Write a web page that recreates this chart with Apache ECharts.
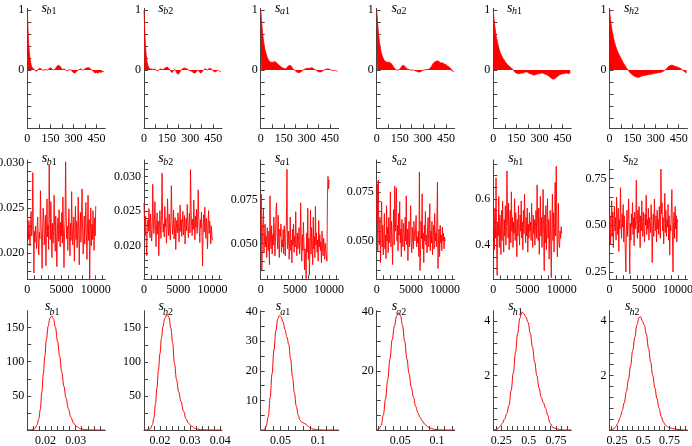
<!DOCTYPE html>
<html><head><meta charset="utf-8">
<script src="https://cdn.jsdelivr.net/npm/echarts@6/dist/echarts.min.js"></script>
<style>html,body{margin:0;padding:0;background:#fff}#c{width:692px;height:446px}</style>
</head><body><div id="c"></div>
<script>
// ---------------- data ----------------
const panelNames = [['b','1'],['b','2'],['a','1'],['a','2'],['h','1'],['h','2']];

// Row 1: autocorrelation
const acfLags = [0,3,6,9,12,15,20,25,30,
  40,50,60,70,80,90,100,110,120,130,
  140,150,160,170,180,190,200,210,220,230,
  240,250,260,270,280,290,300,310,320,330,
  340,350,360,370,380,390,400,410,420,430,
  440,450,460,470,480,490,500];
const acfB1 = [1,0.8,0.6,0.45,0.34,0.26,0.16,0.09,0.05,
  0.02,0.0,-0.02,0.01,0.03,0.02,0.0,0.0,0.01,0.0,
  0.02,0.04,0.02,0.0,0.02,0.05,0.08,0.07,0.04,0.01,
  0.02,0.0,-0.01,0.0,0.01,-0.02,-0.04,-0.05,-0.02,0.0,
  0.01,0.02,0.0,0.01,0.03,0.04,0.04,0.02,0.0,-0.02,
  -0.05,-0.04,-0.05,-0.03,-0.04,-0.02,-0.03];
const acfB2 = [1,0.8,0.6,0.45,0.33,0.24,0.14,0.08,0.05,
  0.02,0.02,0.01,0.02,0.0,-0.01,0.01,0.02,0.01,0.02,
  0.04,0.05,0.03,0.0,-0.04,-0.02,0.01,-0.03,-0.07,-0.05,
  0.0,0.02,0.03,0.03,0.02,0.0,-0.01,-0.02,-0.04,-0.05,
  -0.03,0.0,-0.03,-0.05,-0.02,0.01,0.02,0.0,0.02,0.03,
  0.01,-0.01,-0.03,-0.02,0.0,-0.02,-0.03];
const acfA1 = [1,0.92,0.82,0.72,0.63,0.56,0.46,0.38,0.32,
  0.23,0.17,0.14,0.13,0.13,0.14,0.13,0.1,0.08,0.06,
  0.04,0.03,0.02,0.04,0.07,0.08,0.06,0.02,0.0,-0.02,
  -0.04,-0.04,-0.03,-0.01,0.01,0.02,0.03,0.03,0.03,0.04,
  0.03,0.01,0.0,-0.02,-0.03,-0.03,-0.02,0.0,0.01,0.02,
  0.02,0.01,0.0,-0.01,0.0,-0.01,-0.02];
const acfA2 = [1,0.9,0.8,0.7,0.61,0.53,0.43,0.35,0.29,
  0.21,0.16,0.14,0.13,0.13,0.12,0.09,0.05,0.02,0.0,
  0.0,0.02,0.05,0.08,0.07,0.04,0.02,0.01,0.0,0.0,
  0.0,-0.01,-0.02,-0.03,-0.03,-0.02,0.0,0.0,0.01,0.01,
  0.02,0.04,0.08,0.12,0.14,0.15,0.15,0.13,0.12,0.12,
  0.1,0.09,0.07,0.05,0.03,0.0,-0.03];
const acfH1 = [1,0.9,0.82,0.75,0.69,0.63,0.55,0.49,0.43,
  0.33,0.26,0.21,0.17,0.13,0.1,0.07,0.05,0.03,0.0,
  -0.03,-0.05,-0.06,-0.06,-0.05,-0.05,-0.04,-0.03,-0.03,-0.05,
  -0.06,-0.07,-0.08,-0.08,-0.07,-0.06,-0.06,-0.05,-0.05,-0.06,
  -0.07,-0.08,-0.1,-0.12,-0.14,-0.15,-0.14,-0.12,-0.1,-0.08,
  -0.07,-0.06,-0.06,-0.05,-0.05,-0.06,-0.05];
const acfH2 = [1,0.93,0.86,0.8,0.74,0.69,0.61,0.55,0.49,
  0.4,0.33,0.27,0.22,0.17,0.12,0.08,0.04,0.0,-0.03,
  -0.06,-0.08,-0.1,-0.11,-0.12,-0.12,-0.11,-0.1,-0.09,-0.09,
  -0.08,-0.08,-0.07,-0.07,-0.06,-0.06,-0.05,-0.05,-0.04,-0.04,
  -0.03,-0.02,0.0,0.02,0.05,0.07,0.08,0.08,0.07,0.06,
  0.05,0.04,0.03,0.01,-0.01,-0.03,-0.05];

// Row 2: traces (one value every traceStep iterations)
const traceStep = 80;
const traceB1 = [0.0243,0.0228,0.0215,0.0236,0.0221,0.0208,0.0232,0.0246,0.0219,0.0226,
  0.0289,0.0231,0.0178,0.0224,0.0212,0.0230,0.0219,0.0205,0.0227,0.0240,
  0.0211,0.0198,0.0223,0.0216,0.0269,0.0233,0.0214,0.0183,0.0228,0.0250,
  0.0237,0.0209,0.0221,0.0242,0.0186,0.0225,0.0260,0.0218,0.0231,0.0204,
  0.0298,0.0238,0.0215,0.0257,0.0226,0.0195,0.0233,0.0211,0.0224,0.0264,
  0.0229,0.0202,0.0241,0.0217,0.0185,0.0226,0.0239,0.0213,0.0248,0.0222,
  0.0207,0.0234,0.0219,0.0245,0.0211,0.0262,0.0227,0.0184,0.0220,0.0236,
  0.0301,0.0244,0.0216,0.0230,0.0203,0.0225,0.0249,0.0218,0.0197,0.0233,
  0.0214,0.0268,0.0231,0.0209,0.0222,0.0240,0.0191,0.0227,0.0252,0.0215,
  0.0235,0.0206,0.0224,0.0262,0.0219,0.0187,0.0230,0.0245,0.0212,0.0238,
  0.0271,0.0226,0.0199,0.0217,0.0241,0.0210,0.0233,0.0256,0.0221,0.0193,
  0.0229,0.0264,0.0214,0.0237,0.0172,0.0220,0.0250,0.0208,0.0232,0.0215,
  0.0247,0.0225,0.0203,0.0239,0.0219,0.0252];
const traceB2 = [0.0262,0.0231,0.0215,0.0243,0.0209,0.0186,0.0227,0.0238,0.0221,0.0254,
  0.0233,0.0212,0.0246,0.0228,0.0207,0.0224,0.0289,0.0240,0.0218,0.0235,
  0.0264,0.0226,0.0199,0.0230,0.0248,0.0217,0.0236,0.0186,0.0222,0.0251,
  0.0229,0.0211,0.0244,0.0305,0.0237,0.0220,0.0232,0.0213,0.0257,0.0228,
  0.0240,0.0204,0.0223,0.0268,0.0231,0.0215,0.0246,0.0222,0.0209,0.0236,
  0.0287,0.0243,0.0217,0.0229,0.0252,0.0210,0.0226,0.0241,0.0195,0.0224,
  0.0237,0.0219,0.0248,0.0232,0.0206,0.0227,0.0259,0.0221,0.0238,0.0214,
  0.0233,0.0250,0.0216,0.0229,0.0244,0.0203,0.0225,0.0240,0.0222,0.0260,
  0.0235,0.0212,0.0230,0.0247,0.0219,0.0310,0.0255,0.0228,0.0215,0.0239,
  0.0224,0.0266,0.0236,0.0209,0.0243,0.0227,0.0253,0.0218,0.0234,0.0281,
  0.0242,0.0223,0.0205,0.0238,0.0226,0.0249,0.0214,0.0171,0.0229,0.0245,
  0.0220,0.0256,0.0233,0.0211,0.0240,0.0227,0.0196,0.0232,0.0251,0.0218,
  0.0236,0.0224,0.0203,0.0229,0.0215,0.0208];
const traceA1 = [0.0560,0.0780,0.0350,0.0490,0.0620,0.0700,0.0450,0.0530,0.0610,0.0480,
  0.0540,0.0420,0.0590,0.0500,0.0460,0.0570,0.0380,0.0770,0.0520,0.0470,
  0.0600,0.0440,0.0550,0.0490,0.0650,0.0580,0.0430,0.0510,0.0690,0.0730,
  0.0560,0.0470,0.0660,0.0500,0.0420,0.0580,0.0540,0.0610,0.0450,0.0520,
  0.0480,0.0580,0.0440,0.0600,0.0510,0.0430,0.0550,0.0620,0.0920,0.0470,
  0.0500,0.0570,0.0410,0.0530,0.0650,0.0460,0.0520,0.0390,0.0580,0.0490,
  0.0610,0.0450,0.0540,0.0480,0.0680,0.0500,0.0430,0.0560,0.0470,0.0520,
  0.0590,0.0440,0.0510,0.0730,0.0480,0.0400,0.0550,0.0460,0.0620,0.0500,
  0.0350,0.0470,0.0420,0.0300,0.0560,0.0450,0.0700,0.0410,0.0530,0.0320,
  0.0480,0.0690,0.0440,0.0590,0.0500,0.0380,0.0650,0.0470,0.0540,0.0420,
  0.0710,0.0490,0.0560,0.0450,0.0520,0.0400,0.0630,0.0480,0.0550,0.0460,
  0.0510,0.0390,0.0570,0.0470,0.0430,0.0530,0.0490,0.0410,0.0500,0.0460,
  0.0450,0.0400,0.0780,0.0880,0.0810,0.0860];
const traceA2 = [0.0600,0.0790,0.0450,0.0810,0.0520,0.0480,0.0620,0.0390,0.0550,0.0700,
  0.0470,0.0580,0.0430,0.0510,0.0640,0.0460,0.0530,0.0410,0.0680,0.0500,
  0.0570,0.0440,0.0620,0.0490,0.0540,0.0750,0.0470,0.0600,0.0520,0.0380,
  0.0560,0.0660,0.0480,0.0780,0.0550,0.0620,0.0770,0.0500,0.0580,0.0450,
  0.0640,0.0530,0.0700,0.0490,0.0560,0.0420,0.0610,0.0510,0.0470,0.0590,
  0.0540,0.0450,0.0620,0.0500,0.0730,0.0480,0.0560,0.0400,0.0520,0.0600,
  0.0470,0.0550,0.0680,0.0490,0.0440,0.0570,0.0510,0.0460,0.0600,0.0530,
  0.0500,0.0560,0.0630,0.0470,0.0520,0.0490,0.0550,0.0420,0.0850,0.0350,
  0.0420,0.0600,0.0510,0.0740,0.0460,0.0540,0.0390,0.0580,0.0500,0.0650,
  0.0480,0.0530,0.0440,0.0570,0.0620,0.0470,0.0510,0.0690,0.0450,0.0550,
  0.0490,0.0600,0.0430,0.0520,0.0580,0.0460,0.0640,0.0500,0.0540,0.0470,
  0.0610,0.0800,0.0360,0.0510,0.0560,0.0420,0.0580,0.0490,0.0530,0.0450,
  0.0570,0.0500,0.0540,0.0460,0.0520,0.0500];
const traceH1 = [0.4500,0.5200,0.3800,0.5600,0.4300,0.6900,0.4100,0.2700,0.5000,0.4400,
  0.6100,0.3900,0.5300,0.4700,0.3600,0.5500,0.4200,0.5900,0.4600,0.3700,
  0.5100,0.4400,0.5700,0.4000,0.4800,0.7200,0.5300,0.4300,0.5800,0.3800,
  0.4900,0.5500,0.4100,0.6300,0.4600,0.5200,0.3900,0.5000,0.4500,0.6000,
  0.4200,0.5400,0.4800,0.3500,0.5100,0.4400,0.5700,0.4700,0.4000,0.5300,
  0.4600,0.5900,0.4300,0.5000,0.3800,0.5500,0.4500,0.6200,0.4800,0.4100,
  0.5200,0.4400,0.5600,0.3700,0.4900,0.4300,0.5400,0.4600,0.5000,0.4200,
  0.5800,0.4700,0.3900,0.5300,0.4500,0.5100,0.4000,0.4800,0.5500,0.4300,
  0.6600,0.5000,0.4200,0.5600,0.3600,0.4700,0.6100,0.4400,0.5200,0.3900,
  0.4900,0.6400,0.4500,0.2900,0.5300,0.4100,0.5700,0.3800,0.4800,0.6000,
  0.4300,0.5100,0.3400,0.4600,0.5500,0.4000,0.2600,0.4900,0.6200,0.4200,
  0.5400,0.3700,0.4700,0.6700,0.4400,0.7400,0.5000,0.3500,0.4500,0.5800,
  0.4100,0.3900,0.4600,0.4300,0.4800,0.4500];
const traceH2 = [0.4600,0.5500,0.4000,0.5200,0.6300,0.4400,0.5700,0.3800,0.5000,0.6000,
  0.4700,0.5400,0.4200,0.6500,0.5100,0.4500,0.5900,0.3600,0.5300,0.4800,
  0.7000,0.5200,0.4300,0.5600,0.4900,0.6100,0.4100,0.5500,0.4600,0.3500,
  0.2500,0.5000,0.5800,0.4400,0.5300,0.6400,0.4700,0.2400,0.5100,0.4200,
  0.5600,0.4900,0.6200,0.4500,0.5400,0.3900,0.5700,0.4800,0.5200,0.7400,
  0.5000,0.4300,0.5800,0.4600,0.6000,0.5100,0.3800,0.5500,0.4700,0.6300,
  0.5200,0.4400,0.5700,0.4900,0.4100,0.5600,0.5000,0.6600,0.4500,0.5300,
  0.4800,0.5900,0.4200,0.5400,0.5000,0.4600,0.6100,0.5200,0.3000,0.4900,
  0.5600,0.4400,0.6400,0.5100,0.4700,0.5500,0.4100,0.5800,0.4800,0.5300,
  0.4500,0.6000,0.5000,0.4300,0.8000,0.5600,0.6200,0.4700,0.5400,0.4000,
  0.5100,0.6700,0.4600,0.5800,0.4400,0.5300,0.4900,0.6100,0.4200,0.5500,
  0.3400,0.5000,0.4700,0.5900,0.6900,0.4400,0.2500,0.5200,0.5700,0.4300,
  0.6000,0.4800,0.5500,0.4100,0.5300,0.5200];

// Row 3: posterior densities
const densB1X = [0.014,0.0155,0.0165,0.0172,0.0178,0.0183,0.0188,0.0193,0.0198,0.0203,0.0209,0.0215,0.0221,0.0227,0.0233,0.0240,0.0247,0.0254,0.0261,0.0268,0.0276,0.0284,0.0293,0.0303,0.0315,0.033,0.035,0.037,0.0398];
const densB1Y = [0,0.3,2,7,16,30,55,82,108,132,152,164,167,162,150,130,108,85,64,47,31,19,10,5,2,0.6,0.1,0,0];
const densB2X = [0.0147,0.016,0.0168,0.0175,0.018,0.0185,0.019,0.0195,0.02,0.0205,0.021,0.0216,0.0224,0.023,0.0236,0.0242,0.0248,0.0255,0.0262,0.027,0.0278,0.0286,0.0295,0.0305,0.0318,0.0335,0.036,0.038,0.0406];
const densB2Y = [0,0.3,2,8,18,38,62,88,112,135,152,164,170,165,150,128,98,74,56,42,28,17,10,5.5,2,0.5,0.1,0,0];
const densA1X = [0.024,0.028,0.031,0.034,0.0365,0.039,0.0415,0.044,0.0465,0.049,0.051,0.0535,0.056,0.0585,0.061,0.0635,0.066,0.0685,0.071,0.0735,0.076,0.0785,0.081,0.0835,0.086,0.089,0.093,0.098,0.105,0.115,0.127];
const densA1Y = [0,0,1,4.5,11,19,27,33.5,37.5,38.7,38.2,36.5,34,31.5,29,24,18,12.5,8,5,3.3,2.6,2.3,2,1.4,0.8,0.3,0.1,0,0,0];
const densA2X = [0.018,0.021,0.024,0.027,0.03,0.033,0.036,0.039,0.042,0.045,0.0477,0.0505,0.053,0.056,0.059,0.062,0.065,0.068,0.071,0.074,0.077,0.08,0.084,0.088,0.092,0.097,0.103,0.11,0.117,0.124];
const densA2Y = [0,0.3,1.5,5,10.5,17,24,30.5,35,38.5,39.5,38.5,35.5,30,24,19,14.5,11,8,5.8,4.2,3,1.8,1,0.5,0.2,0.05,0,0,0];
const densH1X = [0.177,0.2,0.22,0.24,0.26,0.28,0.3,0.32,0.34,0.36,0.38,0.4,0.42,0.436,0.455,0.475,0.495,0.515,0.535,0.555,0.575,0.595,0.615,0.635,0.655,0.675,0.695,0.72,0.75,0.78,0.82,0.86,0.89];
const densH1Y = [0,0.02,0.06,0.14,0.25,0.4,0.6,0.9,1.45,2.1,2.85,3.55,4.1,4.33,4.28,4.15,3.95,3.55,3.05,2.5,2.0,1.55,1.2,1.0,0.8,0.55,0.25,0.1,0.05,0.02,0,0,0];
const densH2X = [0.18,0.2,0.22,0.24,0.26,0.28,0.3,0.32,0.34,0.36,0.38,0.4,0.42,0.44,0.46,0.475,0.49,0.51,0.53,0.55,0.57,0.59,0.61,0.63,0.65,0.67,0.69,0.71,0.74,0.78,0.83,0.88,0.92];
const densH2Y = [0,0.01,0.04,0.12,0.25,0.45,0.7,1.0,1.4,1.85,2.35,2.9,3.4,3.85,4.12,4.15,4.0,3.85,3.5,3.0,2.5,2.0,1.55,1.15,0.8,0.5,0.3,0.18,0.1,0.05,0.02,0,0];

// tick labels
const acfXLabels = [0,150,300,450];
const acfYLabels = [0,1];
const traceXLabels = [0,5000,10000];
const traceYLabels = [[0.020,0.025,0.030],[0.020,0.025,0.030],[0.050,0.075],[0.050,0.075],[0.4,0.6],[0.25,0.50,0.75]];
const traceYDecimals = [3,3,3,3,1,2];
const densXLabels = [[0.02,0.03],[0.02,0.03,0.04],[0.05,0.1],[0.05,0.1],[0.25,0.5,0.75],[0.25,0.5,0.75]];
const densYLabels = [[50,100,150],[50,100,150],[10,20,30,40],[20,40],[2,4],[2,4]];

// ---------------- layout / axes ----------------
const colLeft = [27.3,144,260.7,376.7,493.3,609.5];
const gridW = 78;
const rowTop = [8.3,160,310.7];
const rowH = [120,119.3,119.3];

const acfXRange = [0,507];
const acfYRange = [-0.97,1.03];
const traceXRange = [0,11400];
const traceYRanges = [[0.0171,0.0303],[0.0152,0.0324],[0.0297,0.0973],[0.0305,0.0912],[0.253,0.767],[0.211,0.848]];
const densXRanges = [[0.014,0.0398],[0.0147,0.0406],[0.024,0.127],[0.018,0.124],[0.177,0.89],[0.18,0.92]];
const densYMax = [174.6,175,40.3,40.3,4.38,4.37];

function rng(a,b,s){const o=[];for(let k=0;a+k*s<=b+1e-9;k++)o.push(+(a+k*s).toFixed(6));return o;}
const acfXTicks = rng(0,450,75);
const acfYTicks = rng(-0.8,1,0.2);
const traceXTicks = rng(0,11000,1000);
const traceYTickSpec = [[0.018,0.030,0.001],[0.016,0.032,0.001],[0.030,0.095,0.005],[0.035,0.090,0.005],[0.30,0.75,0.05],[0.25,0.80,0.05]];
const densXTickSpec = [[0.016,0.038,0.002],[0.016,0.040,0.002],[0.03,0.12,0.01],[0.02,0.12,0.01],[0.2,0.85,0.05],[0.2,0.9,0.05]];
const densYTickSpec = [[25,150,25],[25,150,25],[5,40,5],[5,40,5],[0.4,4,0.4],[0.4,4,0.4]];

const FONT = 'Liberation Serif';
const AX = '#444';
const RED = '#ff0000';

const acfData = [acfB1,acfB2,acfA1,acfA2,acfH1,acfH2];
const traceData = [traceB1,traceB2,traceA1,traceA2,traceH1,traceH2];
const densX = [densB1X,densB2X,densA1X,densA2X,densH1X,densH2X];
const densY = [densB1Y,densB2Y,densA1Y,densA2Y,densH1Y,densH2Y];

const grids=[],xAxes=[],yAxes=[],series=[],graphics=[];

function axis(idx, range, ticks, labels, fmt, isX){
  return {
    gridIndex: idx, type:'value', min: range[0], max: range[1],
    axisLine:{show:true, onZero:false, lineStyle:{color:AX, width:1}},
    axisTick:{show:true, inside:true, length:4, customValues: ticks, lineStyle:{color:AX, width:1}},
    axisLabel:{show:true, customValues: labels, formatter: fmt, margin: isX?5:3,
      fontFamily: FONT, fontSize: 12, color:'#000'},
    splitLine:{show:false}
  };
}

function addPanel(row, col, xr, xt, xl, xf, yr, yt, yl, yf, s){
  const idx = grids.length;
  grids.push({left: colLeft[col], top: rowTop[row], width: gridW, height: rowH[row], containLabel:false, outerBoundsMode:'none'});
  xAxes.push(axis(idx, xr, xt, xl, xf, true));
  yAxes.push(axis(idx, yr, yt, yl, yf, false));
  s.xAxisIndex = idx; s.yAxisIndex = idx;
  series.push(s);
}

const plain = v => String(v);

for (let i=0;i<6;i++){
  // Row 1: ACF
  addPanel(0, i, acfXRange, acfXTicks, acfXLabels, plain, acfYRange, acfYTicks, acfYLabels, plain, {
    type:'line', data: acfLags.map((l,k)=>[l, acfData[i][k]]), showSymbol:false, smooth:0.3,
    lineStyle:{color:RED, width:0.8}, areaStyle:{color:RED, opacity:1, origin:0}, clip:true
  });
  // Row 2: trace
  const d = traceYDecimals[i];
  addPanel(1, i, traceXRange, traceXTicks, traceXLabels, plain,
    traceYRanges[i], rng(...traceYTickSpec[i]), traceYLabels[i], v => Number(v).toFixed(d), {
    type:'line', data: traceData[i].map((v,k)=>[k*traceStep, v]), showSymbol:false,
    lineStyle:{color:RED, width:0.9}, clip:true
  });
  // Row 3: density
  addPanel(2, i, densXRanges[i], rng(...densXTickSpec[i]), densXLabels[i], plain,
    [0, densYMax[i]], rng(...densYTickSpec[i]), densYLabels[i], plain, {
    type:'line', data: densX[i].map((x,k)=>[x, densY[i][k]]), showSymbol:false, smooth:0.4, smoothMonotone:'x',
    lineStyle:{color:RED, width:1}, clip:true
  });
}

// panel titles: s with subscript
const titleRows = [
  {sy:8.5, by:11.5, sdx:[14.3,14.3,14.3,14.8,13.6,14.5], bdx:5},
  {sy:158, by:162.5, sdx:[14.4,14.3,14.3,15,15,13.8], bdx:5},
  {sy:306, by:312, sdx:[17.7,14.5,15,15,15,15.5], bdx:4.5}
];
titleRows.forEach(tr => {
  for (let i=0;i<6;i++){
    const x = colLeft[i] + tr.sdx[i];
    graphics.push({type:'text', x: x, y: tr.sy, silent:true,
      style:{text:'s', fontFamily:FONT, fontStyle:'italic', fontSize:14, fill:'#000', verticalAlign:'middle', align:'left'}});
    graphics.push({type:'text', x: x + tr.bdx, y: tr.by, silent:true,
      style:{text:'{i|'+panelNames[i][0]+'}{r|'+panelNames[i][1]+'}', fill:'#000', verticalAlign:'middle', align:'left',
        rich:{i:{fontFamily:FONT, fontStyle:'italic', fontSize:10, fill:'#000'}, r:{fontFamily:FONT, fontSize:10, fill:'#000'}}}});
  }
});

const chart = echarts.init(document.getElementById('c'), null, {renderer:'canvas'});
chart.setOption({
  animation:false,
  backgroundColor:'#fff',
  grid: grids, xAxis: xAxes, yAxis: yAxes, series: series, graphic: graphics
});
</script>
</body></html>
